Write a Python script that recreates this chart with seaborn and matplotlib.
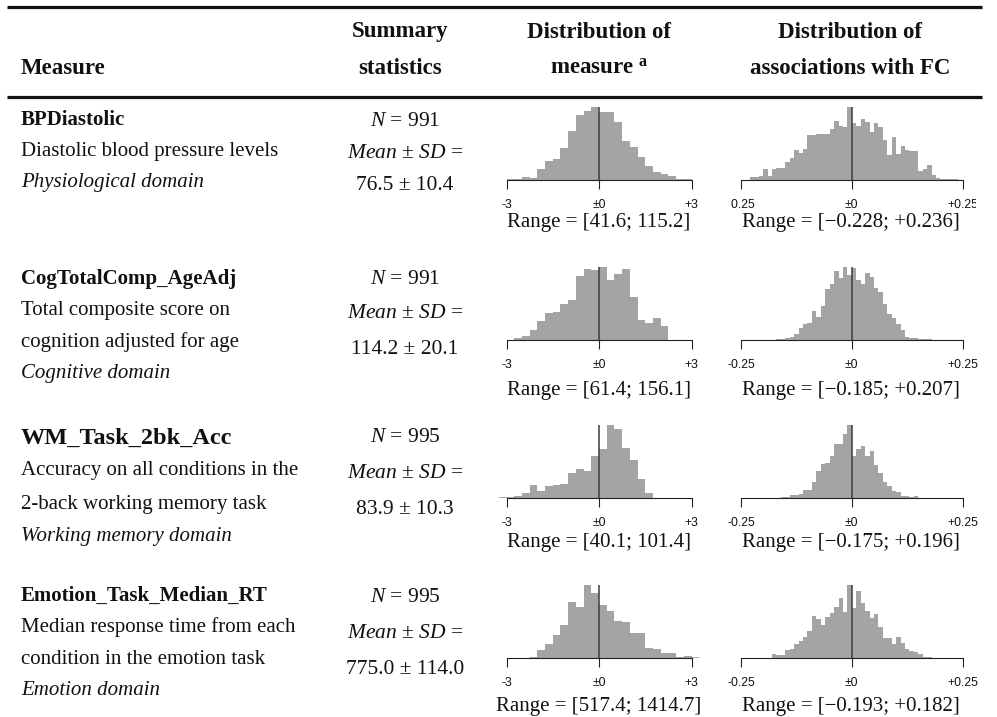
import numpy as np
import pandas as pd
import matplotlib
matplotlib.use("Agg")
import matplotlib.pyplot as plt
import seaborn as sns
from matplotlib.lines import Line2D
from matplotlib.transforms import Bbox, TransformedBbox

# ------------------------------------------------------------------ data
measure_names = ["BPDiastolic", "CogTotalComp_AgeAdj", "WM_Task_2bk_Acc", "Emotion_Task_Median_RT"]
measure_desc = [
    ["Diastolic blood pressure levels"],
    ["Total composite score on", "cognition adjusted for age"],
    ["Accuracy on all conditions in the", "2-back working memory task"],
    ["Median response time from each", "condition in the emotion task"],
]
domains = ["Physiological domain", "Cognitive domain", "Working memory domain", "Emotion domain"]
n_subjects = [991, 991, 995, 995]
means = ["76.5", "114.2", "83.9", "775.0"]
sds = ["10.4", "20.1", "10.3", "114.0"]
measure_ranges = ["[41.6; 115.2]", "[61.4; 156.1]", "[40.1; 101.4]", "[517.4; 1414.7]"]
fc_ranges = ["[\u22120.228; +0.236]", "[\u22120.185; +0.207]", "[\u22120.175; +0.196]", "[\u22120.193; +0.182]"]

# distribution of the measure (z-scored), bin width 0.25 SD, relative bar heights
meas_bin_width = 0.25
meas_first_edge = [-3.25, -2.75, -3.25, -2.5]
meas_bp = [1, 2, 4, 10, 7, 33, 56, 63, 97, 147, 193, 207, 218, 202, 204, 172, 116, 100, 68, 43,
           23, 18, 12, 4, 2, 1, 1]
meas_cog = [7, 13, 30, 57, 80, 83, 107, 122, 192, 213, 211, 220, 180, 198, 215, 130, 60, 52, 67, 42]
meas_wm = [2, 2, 5, 15, 38, 22, 35, 38, 42, 75, 88, 80, 126, 147, 218, 205, 150, 112, 57, 15]
meas_emo = [1, 4, 23, 42, 70, 100, 170, 155, 220, 195, 160, 143, 113, 107, 75, 75, 30, 27, 15, 15,
            2, 6, 2, 1]

# distribution of associations with FC, bin width 0.01, relative bar heights
fc_bin_width = 0.01
fc_first_edge = [-0.23, -0.19, -0.18, -0.20]
fc_bp = [8, 10, 13, 33, 13, 33, 37, 35, 55, 65, 90, 80, 93, 135, 133, 137, 138, 138, 152, 175,
         160, 158, 218, 170, 162, 183, 173, 142, 170, 157, 120, 75, 127, 77, 102, 90, 87, 88, 27, 33,
         44, 15, 7, 4, 3, 2, 2]
fc_cog = [1, 1, 2, 3, 5, 9, 19, 37, 49, 52, 87, 70, 103, 155, 170, 207, 187, 220, 195, 217,
          180, 170, 202, 190, 158, 145, 110, 77, 65, 47, 30, 9, 6, 5, 3, 2, 2, 1, 1, 1]
fc_wm = [1, 1, 4, 2, 9, 10, 12, 24, 25, 48, 82, 102, 105, 125, 160, 162, 190, 218, 125, 145,
         156, 125, 139, 98, 75, 48, 35, 22, 17, 7, 5, 4, 5, 1, 1, 1, 1, 1]
fc_emo = [1, 1, 12, 8, 8, 25, 28, 43, 50, 62, 80, 127, 117, 100, 125, 137, 155, 182, 140, 220,
          150, 202, 165, 143, 120, 132, 92, 60, 60, 42, 62, 45, 27, 22, 18, 12, 3, 2, 1]

meas_ticks = [-3, 0, 3]
meas_ticklabels = ["-3", "\u00b10", "+3"]
fc_ticks = [-0.25, 0, 0.25]
fc_ticklabels = ["-0.25", "\u00b10", "+0.25"]

meas_heights = [meas_bp, meas_cog, meas_wm, meas_emo]
fc_heights = [fc_bp, fc_cog, fc_wm, fc_emo]

# ------------------------------------------------------------------ style
sns.set_theme(style="white")
plt.rcParams["font.family"] = ["Liberation Serif", "DejaVu Serif"]
plt.rcParams["mathtext.fontset"] = "custom"
plt.rcParams["mathtext.rm"] = "Liberation Serif"
plt.rcParams["mathtext.it"] = "Liberation Serif:italic"
plt.rcParams["mathtext.bf"] = "Liberation Serif:bold"
plt.rcParams["axes.unicode_minus"] = False

BAR = "#a4a4a4"
INK = "#111111"
W, H = 997, 717
BODY = 15
STAT = 15.5
HEAD = 16.5
fig = plt.figure(figsize=(W / 100, H / 100), dpi=100)
fig.patch.set_facecolor("white")


def txt(x, y, s, **kw):
    kw.setdefault("color", INK)
    kw.setdefault("va", "center")
    return fig.text(x / W, 1 - y / H, s, **kw)


def hline(y, x0, x1, lw):
    fig.add_artist(Line2D([x0 / W, x1 / W], [1 - y / H, 1 - y / H], lw=lw, color=INK,
                          transform=fig.transFigure, solid_capstyle="butt"))


# header
hline(7, 7, 982, 2.3)
hline(97, 7, 982, 2.3)
txt(21, 68, "Measure", fontsize=HEAD, fontweight="bold")
txt(400, 32, "Summary", fontsize=HEAD, fontweight="bold", ha="center")
txt(400, 68, "statistics", fontsize=HEAD, fontweight="bold", ha="center")
txt(599, 32, "Distribution of", fontsize=HEAD, fontweight="bold", ha="center")
txt(599, 68, r"measure $^{\mathbf{a}}$", fontsize=HEAD, fontweight="bold", ha="center")
txt(850, 32, "Distribution of", fontsize=HEAD, fontweight="bold", ha="center")
txt(850, 68, "associations with FC", fontsize=HEAD, fontweight="bold", ha="center")

# layout of rows (pixel positions)
name_y = [120, 279, 438, 596]
line_gap = [31.5, 31.5, 33, 31.5]
name_size = [15, 15, 17.5, 15]
stat_y = [[121, 153, 186], [279, 314, 349], [438, 473, 510], [597, 633, 670]]
base_y = [180, 340, 498, 658]
range_y = [223, 391, 542, 706]
HIST_H = 73


def draw_hist(x0, width_px, baseline, first_edge, bw, heights, xlim, ticks, labels, clip=None):
    ax = fig.add_axes([x0 / W, 1 - baseline / H, width_px / W, HIST_H / H])
    n = len(heights)
    edges = [float(first_edge + bw * k) for k in range(n + 1)]
    df = pd.DataFrame({"value": [e + bw / 2 for e in edges[:-1]],
                       "height": [float(h) for h in heights]})
    sns.histplot(data=df, x="value", weights="height", bins=edges, ax=ax, color=BAR, alpha=1,
                 linewidth=0, edgecolor=BAR, stat="count")
    ax.set_xlim(*xlim)
    ax.set_ylim(0, max(heights))
    ax.axvline(0, color="#3c3c3c", lw=1.1, zorder=3)
    for s in ["left", "top", "right"]:
        ax.spines[s].set_visible(False)
    ax.spines["bottom"].set_bounds(ticks[0], ticks[-1])
    ax.spines["bottom"].set_color("#222222")
    ax.spines["bottom"].set_linewidth(0.8)
    ax.set_yticks([])
    ax.set_ylabel("")
    ax.set_xlabel("")
    ax.set_xticks(ticks)
    ax.set_xticklabels(labels, fontfamily="Liberation Sans", fontsize=8.8, color=INK)
    ax.tick_params(axis="x", direction="out", length=6.5, width=0.8, color="#222222", pad=7,
                   bottom=True)
    ax.patch.set_alpha(0)
    if clip is not None:
        cb = TransformedBbox(Bbox.from_extents(clip[0] / W, 0, clip[1] / W, 1), fig.transFigure)
        for lbl in ax.get_xticklabels():
            lbl.set_clip_on(True)
            lbl.set_clip_box(cb)
    return ax


PM = "\u00b1"
for i in range(4):
    # measure column
    txt(21, name_y[i], measure_names[i], fontsize=name_size[i], fontweight="bold")
    lines = measure_desc[i]
    for j, l in enumerate(lines):
        txt(21, name_y[i] + line_gap[i] * (j + 1), l, fontsize=BODY)
    txt(21, name_y[i] + line_gap[i] * (len(lines) + 1), domains[i], fontsize=BODY, style="italic")
    # summary statistics
    txt(405, stat_y[i][0], r"$\mathit{N}$" + f" = {n_subjects[i]}", fontsize=STAT, ha="center")
    txt(405, stat_y[i][1], r"$\mathit{Mean}$ " + PM + r" $\mathit{SD}$ =", fontsize=STAT, ha="center")
    txt(405, stat_y[i][2], f"{means[i]} {PM} {sds[i]}", fontsize=STAT, ha="center")
    # histograms
    draw_hist(497.25, 203.5, base_y[i], meas_first_edge[i], meas_bin_width, meas_heights[i],
              (-3.3, 3.3), meas_ticks, meas_ticklabels)
    draw_hist(732.1, 239.4, base_y[i], fc_first_edge[i], fc_bin_width, fc_heights[i],
              (-0.27, 0.27), fc_ticks, fc_ticklabels, clip=(731, 976) if i == 0 else None)
    txt(599, range_y[i], "Range = " + measure_ranges[i], fontsize=BODY, ha="center")
    txt(851, range_y[i], "Range = " + fc_ranges[i], fontsize=BODY, ha="center")

fig.savefig("out.png", dpi=100, facecolor="white")
